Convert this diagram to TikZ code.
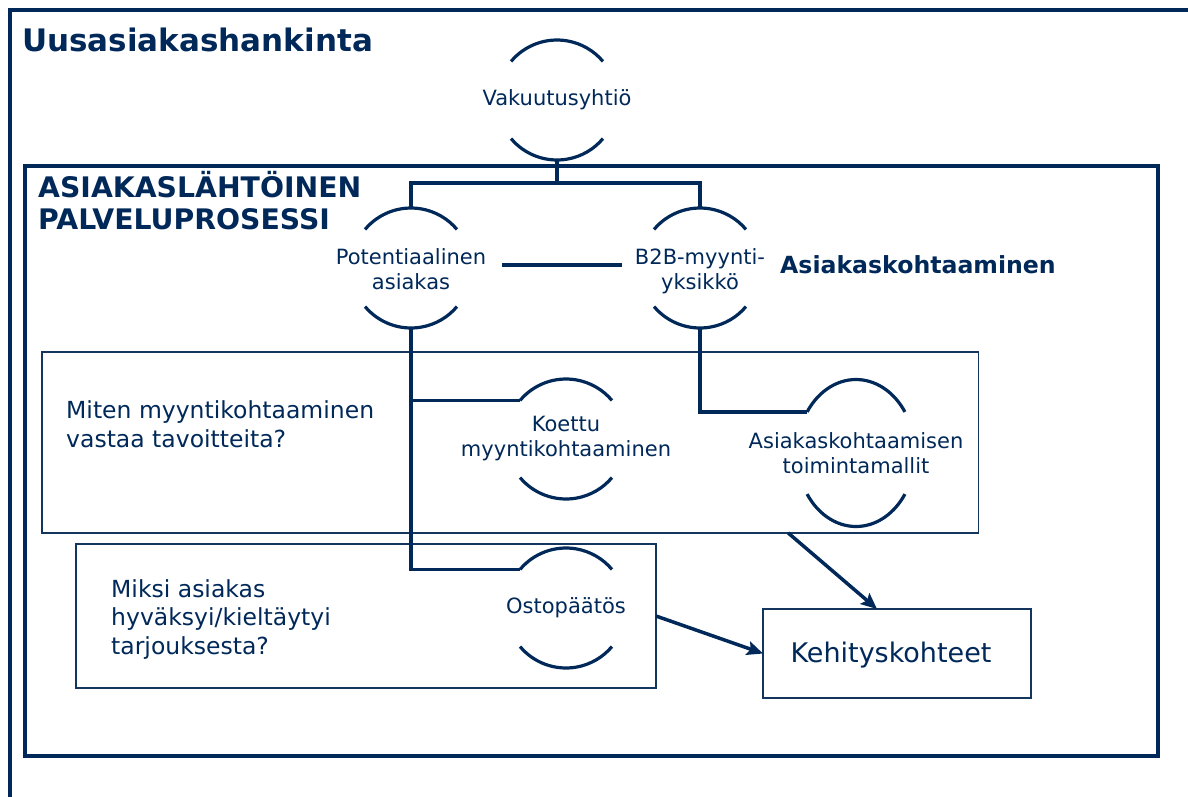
\documentclass[tikz,border=0pt]{standalone}
\usepackage{fontspec}
\setmainfont{DejaVu Sans}
\usetikzlibrary{arrows.meta,positioning,shapes.geometric}
\definecolor{ink}{RGB}{0,40,88}
% two arcs round a hub: node, x radius, y radius, end angle
\newcommand{\ringarcs}[4]{%
  \draw[ring] ([shift={({180-#4}:#2 and #3)}]#1.center) arc[start angle=180-#4, end angle=#4, x radius=#2, y radius=#3];
  \draw[ring] ([shift={({180+#4}:#2 and #3)}]#1.center) arc[start angle=180+#4, end angle=360-#4, x radius=#2, y radius=#3];}

\begin{document}
\begin{tikzpicture}[x=1pt, y=1pt, color=ink,
  frame/.style={line width=4pt},
  ring/.style={line width=3.2pt},
  link/.style={line width=3.5pt},
  arrow/.style={line width=3.5pt, -{Stealth[length=16pt,width=14pt,inset=3pt]}},
  hub/.style={circle, minimum size=120pt, inner sep=0pt, outer sep=0pt},
  hubtext/.style={align=center, inner sep=0pt, font=\fontsize{21}{25}\selectfont},
  qbox/.style={draw=ink!85!gray, line width=1.5pt, inner sep=0pt, outer sep=0pt},
  qtext/.style={anchor=west, align=left, inner sep=0pt, font=\fontsize{23.5}{28.5}\selectfont}]
  \useasboundingbox (0,0) rectangle (1188,-796);
  % frames
  \draw[frame] (9.5,-800) |- (1190,-9.5);
  \draw[frame] (25,-166) rectangle (1158,-756);
  \node[anchor=base west, inner sep=0pt, font=\bfseries\fontsize{31}{36}\selectfont] (title) at (22,-51) {Uusasiakashankinta};
  \node[anchor=west, align=left, inner sep=0pt, font=\bfseries\fontsize{28.3}{32}\selectfont] (process) at (38,-200.5) {ASIAKASLÄHTÖINEN\\PALVELUPROSESSI};
  \node[anchor=west, inner sep=0pt, font=\bfseries\fontsize{23.6}{27}\selectfont] (meet) at (780,-265) {Asiakaskohtaaminen};
  % question boxes
  \node[qbox, minimum width=936.5pt, minimum height=181pt] (q1) at (510.25,-442.5) {};
  \node[qbox, minimum width=580pt, minimum height=144pt] (q2) at (366,-616) {};
  \node[qtext] (q1-t) at (66,-424) {Miten myyntikohtaaminen\\vastaa tavoitteita?};
  \node[qtext] (q2-t) at (111,-619.5) {Miksi asiakas\\hyväksyi/kieltäytyi\\tarjouksesta?};
  \node[qbox, minimum width=268pt, minimum height=89pt] (keh) at (897,-653.5) {};
  \node[inner sep=0pt, font=\fontsize{27}{30}\selectfont] (keh-t) at (891,-655) {Kehityskohteet};
  % hubs
  \node[hub] (vak) at (557,-100) {};
  \node[hub] (pot) at (411,-268) {};
  \node[hub] (b2b) at (700,-268) {};
  \node[hub] (koe) at (566,-439) {};
  \node[hub] (ost) at (566,-608) {};
  \node[ellipse, minimum width=118pt, minimum height=147pt, inner sep=0pt, outer sep=0pt] (ak) at (856,-453) {};
  \node[hubtext] (vak-t) at (vak) {Vakuutusyhtiö};
  \node[hubtext] (pot-t) at (411,-269.5) {Potentiaalinen\\asiakas};
  \node[hubtext] (b2b-t) at (700,-271) {B2B-myynti-\\yksikkö};
  \node[hubtext] (koe-t) at (koe) {Koettu\\myyntikohtaaminen};
  \node[hubtext] (ost-t) at (ost) {Ostopäätös};
  \node[hubtext] (ak-t) at (ak) {Asiakaskohtaamisen\\toimintamallit};
  \foreach \h in {vak,pot,b2b,koe,ost} {\ringarcs{\h}{60}{60}{40}}
  \ringarcs{ak}{59}{73.5}{34}
  % arc ends where links come in
  \coordinate (koe-in) at ([shift={(140:60)}]koe.center);
  \coordinate (ost-in) at ([shift={(140:60)}]ost.center);
  \coordinate (ak-in) at ([shift={(146:59 and 73.5)}]ak.center);
  % links
  \draw[link] (vak.south) -- ++(0,-23) coordinate (split);
  \draw[link] (pot.north) |- (split) -| (b2b.north);
  \draw[link, shorten <=31pt, shorten >=18pt] ([yshift=3pt]pot.east) -- ([yshift=3pt]b2b.west);
  \draw[link] (pot.south) |- (ost-in);
  \draw[link] (pot.south |- koe-in) -- (koe-in);
  \draw[link] (b2b.south) |- (ak-in);
  \draw[arrow] ([xshift=278pt]q1.south) -- ([xshift=-20pt]keh.north);
  \draw[arrow] (q2.east) -- (keh.west);
\end{tikzpicture}
\end{document}
